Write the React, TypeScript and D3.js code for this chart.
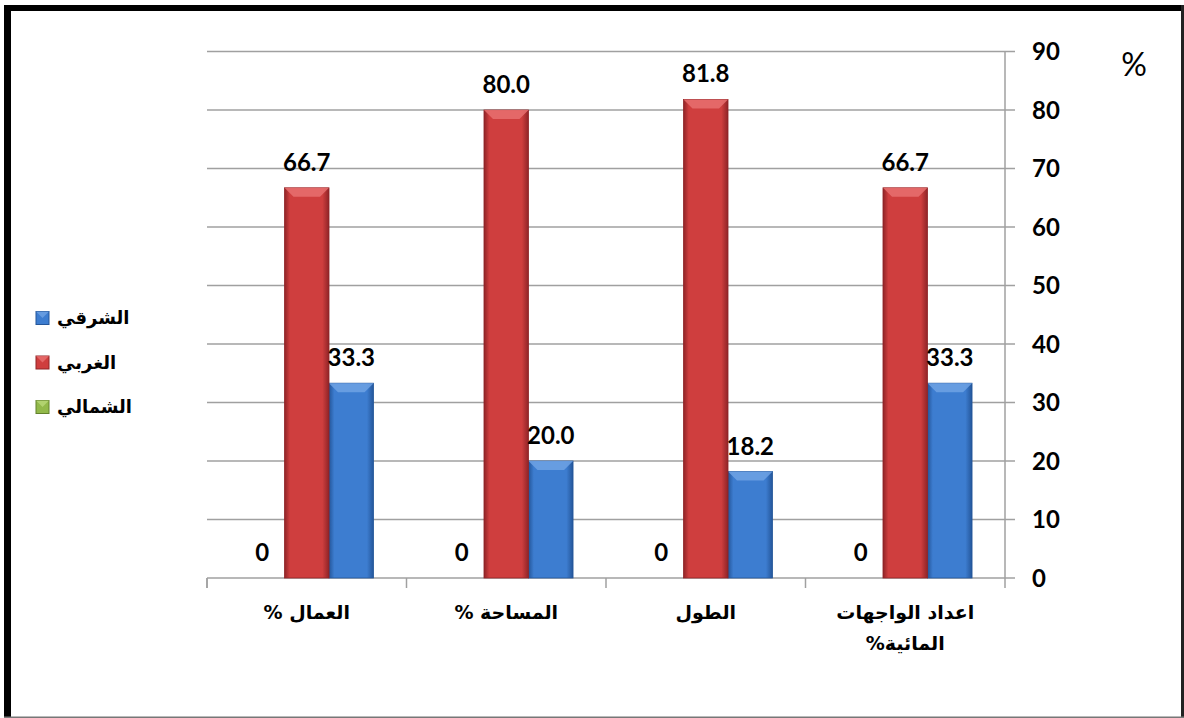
import React from 'react';
import * as d3 from 'd3';

// categories in data order (axis is reversed: first one sits on the right)
const categories = ['اعداد الواجهات المائية%', 'الطول', 'المساحة %', 'العمال %'];
const seriesNames = ['الشرقي', 'الغربي', 'الشمالي'];
const sharqi = [33.3, 18.2, 20.0, 33.3];
const gharbi = [66.7, 81.8, 80.0, 66.7];
const shamali = [0, 0, 0, 0];
const yTicks = [0, 10, 20, 30, 40, 50, 60, 70, 80, 90];

const palette: Record<string, {base: string; light: string; dark: string}> = {
  'الشرقي': {base: '#3d7dd0', light: '#6fa2e4', dark: '#24569a'},
  'الغربي': {base: '#cf3e3e', light: '#e87070', dark: '#8f2427'},
  'الشمالي': {base: '#92b94a', light: '#b9d878', dark: '#62812c'},
};

const W = 1184;
const H = 718;
const plot = {left: 207, right: 1005, top: 51.5, bottom: 578};
const numFont = 'Lato, "Liberation Sans", sans-serif';
const arFont = '"DejaVu Sans", sans-serif';

export default function App() {
  const values: Record<string, number[]> = {
    'الشرقي': sharqi,
    'الغربي': gharbi,
    'الشمالي': shamali,
  };

  const x0 = d3.scaleBand<string>().domain(categories).range([plot.right, plot.left]).padding(0);
  // within a group: green, red, blue from left to right
  const x1 = d3.scaleBand<string>()
    .domain([...seriesNames].reverse())
    .range([0, x0.bandwidth()])
    .paddingInner(0)
    .paddingOuter(0.74);
  const y = d3.scaleLinear().domain([0, 90]).range([plot.bottom, plot.top]);

  const fmt = (v: number) => (v === 0 ? '0' : v.toFixed(1));

  const bars: React.ReactNode[] = [];
  const labels: React.ReactNode[] = [];
  categories.forEach((c, ci) => {
    const g0 = x0(c)!;
    // bands reversed: x0 of a category gives its left edge only with the reversed range
    seriesNames.forEach((s) => {
      const v = values[s][ci];
      const bx = g0 + x1(s)!;
      const bw = x1.bandwidth();
      const by = y(v);
      const bh = plot.bottom - by;
      const col = palette[s];
      if (bh > 0) {
        const bev = Math.min(9, bh);
        bars.push(
          <g key={`b-${ci}-${s}`}>
            <rect x={bx} y={by} width={bw} height={bh} fill={`url(#grad-${seriesNames.indexOf(s)})`} stroke={col.dark} strokeWidth={0.8} />
            <path
              d={`M${bx},${by} L${bx + bw},${by} L${bx + bw - 9},${by + bev} L${bx + 9},${by + bev} Z`}
              fill={col.light}
              opacity={0.85}
            />
          </g>
        );
      }
      labels.push(
        <text
          key={`l-${ci}-${s}`}
          x={bx + bw / 2}
          y={by - 17}
          textAnchor="middle"
          fontFamily={numFont}
          fontWeight="bold"
          fontSize={24}
          fill="#000"
        >
          {fmt(v)}
        </text>
      );
    });
  });

  const boundaries = [plot.left, ...categories.map((c) => x0(c)!)].sort((a, b) => a - b);

  const catLines: Record<string, string[]> = {
    'اعداد الواجهات المائية%': ['اعداد الواجهات', 'المائية%'],
  };

  return (
    <svg width={W} height={H} style={{position: 'absolute', left: 0, top: 0, background: '#fff'}}>
      <defs>
        {seriesNames.map((s, i) => (
          <linearGradient key={s} id={`grad-${i}`} x1="0" x2="1" y1="0" y2="0">
            <stop offset="0%" stopColor={palette[s].dark} />
            <stop offset="12%" stopColor={palette[s].base} />
            <stop offset="85%" stopColor={palette[s].base} />
            <stop offset="100%" stopColor={palette[s].dark} />
          </linearGradient>
        ))}
      </defs>

      {/* frame */}
      <rect x={4} y={5} width={W - 4} height={6} fill="#000" />
      <rect x={4} y={5} width={7} height={H - 5} fill="#000" />
      <rect x={W - 3} y={5} width={3} height={H - 5} fill="#222" />
      <rect x={4} y={H - 1.5} width={W - 4} height={1.5} fill="#777" />

      {/* grid */}
      {yTicks.map((t) => (
        <line key={`g${t}`} x1={plot.left} x2={plot.right + 10} y1={y(t)} y2={y(t)} stroke="#a0a0a0" strokeWidth={1.5} />
      ))}
      <line x1={plot.right} x2={plot.right} y1={plot.top} y2={plot.bottom + 10} stroke="#a0a0a0" strokeWidth={1.5} />
      {boundaries.map((b, i) => (
        <line key={`t${i}`} x1={b} x2={b} y1={plot.bottom} y2={plot.bottom + 10} stroke="#a0a0a0" strokeWidth={1.5} />
      ))}

      {bars}
      {labels}

      {/* y tick labels */}
      {yTicks.map((t) => (
        <text key={`yt${t}`} x={1032} y={y(t)} dy="0.36em" fontFamily={numFont} fontWeight="bold" fontSize={24} fill="#000">
          {t}
        </text>
      ))}
      <text x={1134} y={76} textAnchor="middle" fontFamily={numFont} fontSize={32} fill="#000">%</text>

      {/* category labels */}
      {categories.map((c) => {
        const cx = x0(c)! + x0.bandwidth() / 2;
        const lines = catLines[c] || [c];
        return (
          <text key={`c-${c}`} x={cx} y={619} textAnchor="middle" fontFamily={arFont} fontWeight="bold" fontSize={19} fill="#000" direction="rtl">
            {lines.map((ln, i) => (
              <tspan key={i} x={cx} dy={i === 0 ? 0 : 31}>{ln}</tspan>
            ))}
          </text>
        );
      })}

      {/* legend */}
      {seriesNames.map((s, i) => {
        const ly = 318 + i * 44.5;
        const col = palette[s];
        return (
          <g key={`lg-${s}`}>
            <rect x={36} y={ly - 6.5} width={13} height={13} fill={col.base} stroke={col.dark} strokeWidth={1} />
            <path d={`M36,${ly - 6.5} L49,${ly - 6.5} L42.5,${ly} Z`} fill={col.light} opacity={0.8} />
            <text x={57} y={ly} dy="0.35em" textAnchor="end" direction="rtl" fontFamily={arFont} fontWeight="bold" fontSize={18} fill="#000">
              {s}
            </text>
          </g>
        );
      })}
    </svg>
  );
}
